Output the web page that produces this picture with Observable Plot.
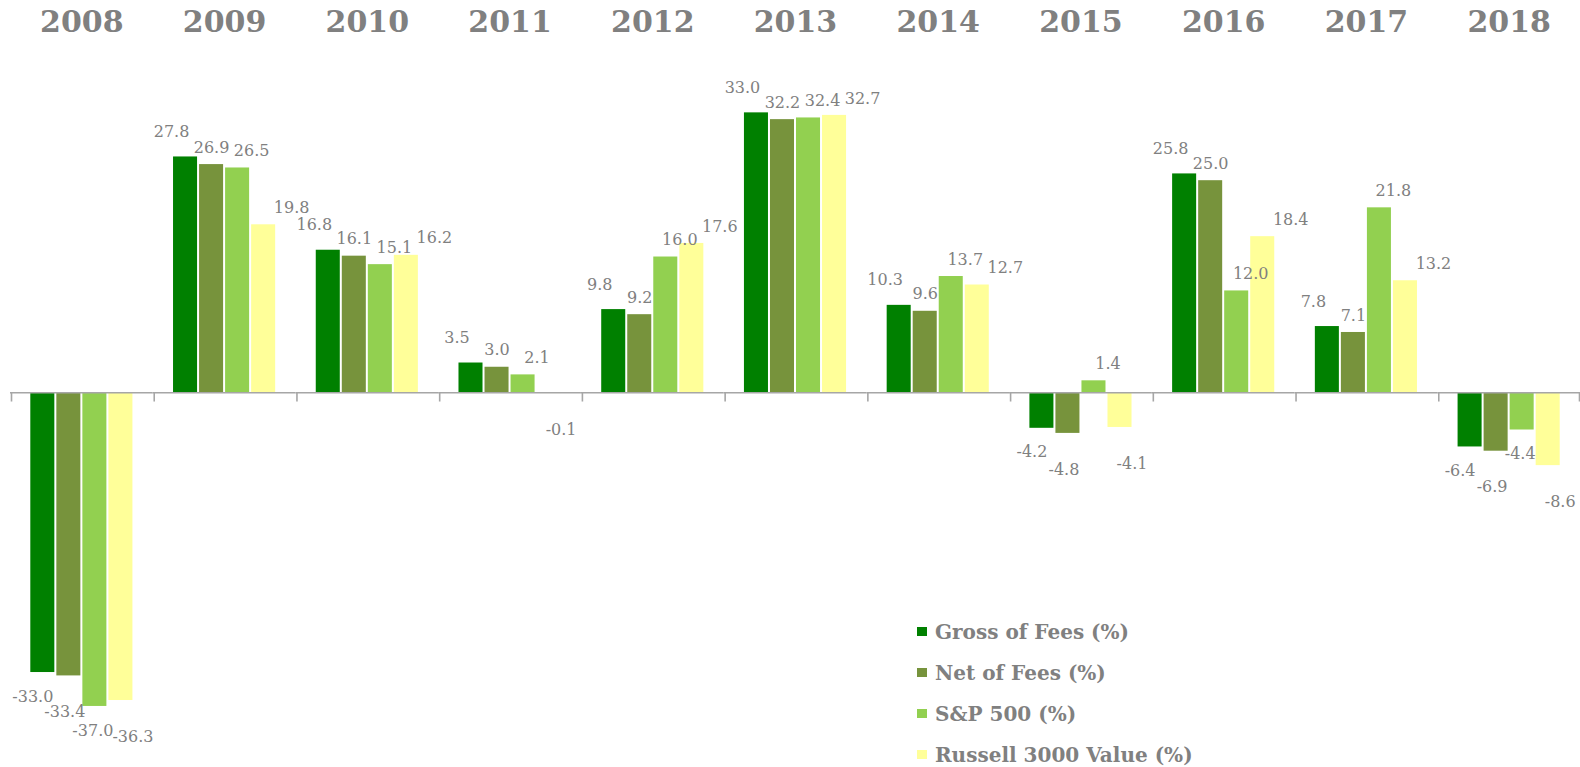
<!DOCTYPE html>
<html><head><meta charset="utf-8">
<script src="https://cdn.jsdelivr.net/npm/d3@7"></script>
<script src="https://cdn.jsdelivr.net/npm/@observablehq/plot@0.6"></script>
<style>
body{margin:0;background:#fff;}
#wrap{position:relative;width:1580px;height:767px;overflow:hidden;}
#wrap svg{overflow:visible;}
#legend{position:absolute;left:917px;top:611px;font-family:"DejaVu Serif",serif;font-weight:bold;font-size:20px;color:#808080;}
.item{display:flex;align-items:center;height:41px;white-space:nowrap;}
.sw{width:10px;height:9px;margin-right:8px;flex:none;}
</style></head><body><div id="wrap"></div>
<script>
const years = ["2008","2009","2010","2011","2012","2013","2014","2015","2016","2017","2018"];
const seriesNames = ["Gross of Fees (%)","Net of Fees (%)","S&P 500 (%)","Russell 3000 Value (%)"];
const gross   = [-33.0, 27.8, 16.8, 3.5,  9.8, 33.0, 10.3, -4.2, 25.8,  7.8, -6.4];
const net     = [-33.4, 26.9, 16.1, 3.0,  9.2, 32.2,  9.6, -4.8, 25.0,  7.1, -6.9];
const sp500   = [-37.0, 26.5, 15.1, 2.1, 16.0, 32.4, 13.7,  1.4, 12.0, 21.8, -4.4];
const russell = [-36.3, 19.8, 16.2, -0.1, 17.6, 32.7, 12.7, -4.1, 18.4, 13.2, -8.6];
const colors = ["#008000","#77933C","#92D050","#FFFF99"];

const seriesValues = [gross, net, sp500, russell];
const data = years.flatMap((y, i) => seriesValues.map((arr, j) => ({year: y, series: seriesNames[j], idx: j, value: arr[i]})));

const width = 1580, height = 767, marginLeft = 10, marginRight = 0;
const pIn = 0.077, pOut = 0.78;
const W = (width - marginLeft - marginRight) / years.length;
const step = W / (seriesNames.length - pIn + 2 * pOut);
const bw = step * (1 - pIn);
const edge = pOut * step + bw / 2;

const font = "DejaVu Serif, serif";
const gray = "#808080";
const pos = data.filter(d => d.value >= 0);
const neg = data.filter(d => d.value < 0);
const negDx = [-10, -4, -2, 12];
const labelMarks = [0, 1, 2, 3].flatMap(j => [
  Plot.text(pos.filter(d => d.idx === j), {fx: "year", x: "series", y: "value", text: d => d.value.toFixed(1),
    dx: (j - 1) * 14, dy: j === 0 ? -25 : -17, fill: gray, fontSize: 16, fontFamily: font}),
  Plot.text(neg.filter(d => d.idx === j), {fx: "year", x: "series", y: "value", text: d => d.value.toFixed(1),
    dx: negDx[j], dy: 24 + (j % 2) * 12, fill: gray, fontSize: 16, fontFamily: font})
]);

const chart = Plot.plot({
  width, height,
  marginLeft, marginRight, marginTop: 53, marginBottom: 0,
  fx: {domain: years, padding: 0, round: false, axis: null},
  x: {domain: seriesNames, paddingInner: pIn, paddingOuter: pOut, round: false, axis: null},
  y: {domain: [-44.2, 40], axis: null},
  color: {domain: seriesNames, range: colors},
  marks: [
    Plot.barY(data, {fx: "year", x: "series", y: "value", fill: "series"}),
    Plot.ruleY([0], {stroke: "#a6a6a6", strokeWidth: 1.6}),
    Plot.ruleX(years, {fx: d => d, x: () => seriesNames[0], y1: 0, y2: -1.1, dx: -edge + 1, stroke: "#a6a6a6", strokeWidth: 1.6}),
    Plot.ruleX([years[years.length - 1]], {fx: d => d, x: () => seriesNames[seriesNames.length - 1], y1: 0, y2: -1.1, dx: edge - 1, stroke: "#a6a6a6", strokeWidth: 1.6}),
    ...labelMarks,
    Plot.text(years, {fx: d => d, text: d => d, frameAnchor: "top", lineAnchor: "middle", dy: -31, fontSize: 30, fontWeight: "bold", fill: gray, fontFamily: font})
  ]
});
const wrap = document.getElementById("wrap");
wrap.appendChild(chart);

const legend = document.createElement("div");
legend.id = "legend";
seriesNames.forEach((s, i) => {
  const item = document.createElement("div");
  item.className = "item";
  const sw = document.createElement("span");
  sw.className = "sw";
  sw.style.background = colors[i];
  const t = document.createElement("span");
  t.textContent = s;
  item.appendChild(sw); item.appendChild(t);
  legend.appendChild(item);
});
wrap.appendChild(legend);
</script>
</body></html>
